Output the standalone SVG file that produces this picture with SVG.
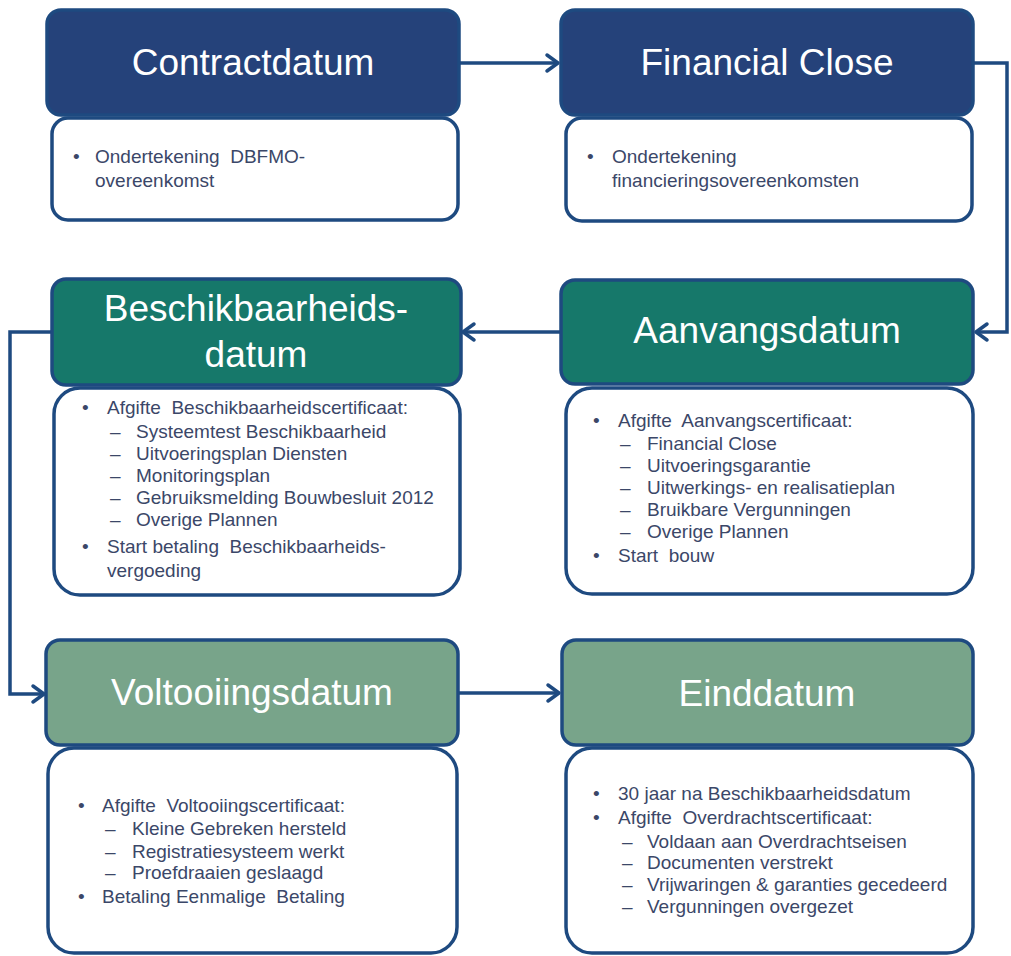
<svg xmlns="http://www.w3.org/2000/svg" width="1011" height="956" viewBox="0 0 1011 956">
<style>
.hd{stroke:#1E4A80;stroke-width:3.5}
.navy{fill:#25427A}
.teal{fill:#16786A}
.sage{fill:#78A48A}
.bd{fill:#ffffff;stroke:#1E4A80;stroke-width:3.5}
.ht{font-family:"Liberation Sans",Arial,sans-serif;font-size:37px;fill:#ffffff;text-anchor:middle}
.bt{font-family:"Liberation Sans",Arial,sans-serif;font-size:19px;fill:#3B4768}
.cn{fill:none;stroke:#1E4A80;stroke-width:3.5}
</style>
<defs>
<marker id="arr" markerUnits="userSpaceOnUse" markerWidth="24" markerHeight="24" viewBox="-16 -12 24 24" refX="0" refY="0" orient="auto">
<path d="M-11,-8 L0,0 L-11,8" fill="none" stroke="#1E4A80" stroke-width="3.5" stroke-linecap="round" stroke-linejoin="round"/>
</marker>
</defs>
<rect width="1011" height="956" fill="#ffffff"/>

<g id="connectors">
<path class="cn" d="M459 63 H558" marker-end="url(#arr)"/>
<path class="cn" d="M973 63 H1007 V332 H976" marker-end="url(#arr)"/>
<path class="cn" d="M561 332 H463" marker-end="url(#arr)"/>
<path class="cn" d="M52 332 H10 V694 H44" marker-end="url(#arr)"/>
<path class="cn" d="M458 693 H559" marker-end="url(#arr)"/>
</g>

<g id="contractdatum">
<rect class="bd" x="52" y="118" width="406" height="102" rx="16"/>
<rect class="hd navy" x="47" y="10" width="412" height="105" rx="14"/>
<text class="ht" x="253" y="75">Contractdatum</text>
<text class="bt" x="73" y="163">•</text>
<text class="bt" x="95" y="163" xml:space="preserve">Ondertekening  DBFMO-</text>
<text class="bt" x="95" y="187">overeenkomst</text>
</g>

<g id="financial-close">
<rect class="bd" x="566" y="118" width="406" height="103" rx="16"/>
<rect class="hd navy" x="561" y="10" width="412" height="105" rx="14"/>
<text class="ht" x="767" y="75">Financial Close</text>
<text class="bt" x="587" y="163">•</text>
<text class="bt" x="612" y="163">Ondertekening</text>
<text class="bt" x="612" y="187">financieringsovereenkomsten</text>
</g>

<g id="beschikbaarheidsdatum">
<rect class="bd" x="54" y="388" width="406" height="207" rx="26"/>
<rect class="hd teal" x="52" y="279" width="409" height="106" rx="14"/>
<text class="ht" x="256" y="321">Beschikbaarheids-</text>
<text class="ht" x="256" y="367">datum</text>
<text class="bt" x="82" y="414">•</text>
<text class="bt" x="107" y="414" xml:space="preserve">Afgifte  Beschikbaarheidscertificaat:</text>
<text class="bt" x="110" y="438">–</text>
<text class="bt" x="136" y="438">Systeemtest Beschikbaarheid</text>
<text class="bt" x="110" y="460">–</text>
<text class="bt" x="136" y="460">Uitvoeringsplan Diensten</text>
<text class="bt" x="110" y="482">–</text>
<text class="bt" x="136" y="482">Monitoringsplan</text>
<text class="bt" x="110" y="504">–</text>
<text class="bt" x="136" y="504">Gebruiksmelding Bouwbesluit 2012</text>
<text class="bt" x="110" y="526">–</text>
<text class="bt" x="136" y="526">Overige Plannen</text>
<text class="bt" x="82" y="553">•</text>
<text class="bt" x="107" y="553" xml:space="preserve">Start betaling  Beschikbaarheids-</text>
<text class="bt" x="107" y="577">vergoeding</text>
</g>

<g id="aanvangsdatum">
<rect class="bd" x="566" y="388" width="407" height="206" rx="26"/>
<rect class="hd teal" x="561" y="280" width="412" height="104" rx="14"/>
<text class="ht" x="767" y="343">Aanvangsdatum</text>
<text class="bt" x="593" y="427">•</text>
<text class="bt" x="618" y="427" xml:space="preserve">Afgifte  Aanvangscertificaat:</text>
<text class="bt" x="620" y="450">–</text>
<text class="bt" x="647" y="450">Financial Close</text>
<text class="bt" x="620" y="472">–</text>
<text class="bt" x="647" y="472">Uitvoeringsgarantie</text>
<text class="bt" x="620" y="494">–</text>
<text class="bt" x="647" y="494">Uitwerkings- en realisatieplan</text>
<text class="bt" x="620" y="516">–</text>
<text class="bt" x="647" y="516">Bruikbare Vergunningen</text>
<text class="bt" x="620" y="538">–</text>
<text class="bt" x="647" y="538">Overige Plannen</text>
<text class="bt" x="593" y="562">•</text>
<text class="bt" x="618" y="562" xml:space="preserve">Start  bouw</text>
</g>

<g id="voltooiingsdatum">
<rect class="bd" x="48" y="748" width="409" height="205" rx="26"/>
<rect class="hd sage" x="46" y="640" width="412" height="105" rx="14"/>
<text class="ht" x="252" y="705">Voltooiingsdatum</text>
<text class="bt" x="78" y="812">•</text>
<text class="bt" x="102" y="812" xml:space="preserve">Afgifte  Voltooiingscertificaat:</text>
<text class="bt" x="105" y="835">–</text>
<text class="bt" x="132" y="835">Kleine Gebreken hersteld</text>
<text class="bt" x="105" y="858">–</text>
<text class="bt" x="132" y="858">Registratiesysteem werkt</text>
<text class="bt" x="105" y="879">–</text>
<text class="bt" x="132" y="879">Proefdraaien geslaagd</text>
<text class="bt" x="78" y="903">•</text>
<text class="bt" x="102" y="903" xml:space="preserve">Betaling Eenmalige  Betaling</text>
</g>

<g id="einddatum">
<rect class="bd" x="566" y="748" width="407" height="205" rx="26"/>
<rect class="hd sage" x="562" y="640" width="411" height="105" rx="14"/>
<text class="ht" x="767" y="706">Einddatum</text>
<text class="bt" x="593" y="800">•</text>
<text class="bt" x="618" y="800">30 jaar na Beschikbaarheidsdatum</text>
<text class="bt" x="593" y="824">•</text>
<text class="bt" x="618" y="824" xml:space="preserve">Afgifte  Overdrachtscertificaat:</text>
<text class="bt" x="622" y="848">–</text>
<text class="bt" x="647" y="848">Voldaan aan Overdrachtseisen</text>
<text class="bt" x="622" y="869">–</text>
<text class="bt" x="647" y="869">Documenten verstrekt</text>
<text class="bt" x="622" y="891">–</text>
<text class="bt" x="647" y="891">Vrijwaringen &amp; garanties gecedeerd</text>
<text class="bt" x="622" y="913">–</text>
<text class="bt" x="647" y="913">Vergunningen overgezet</text>
</g>
</svg>
